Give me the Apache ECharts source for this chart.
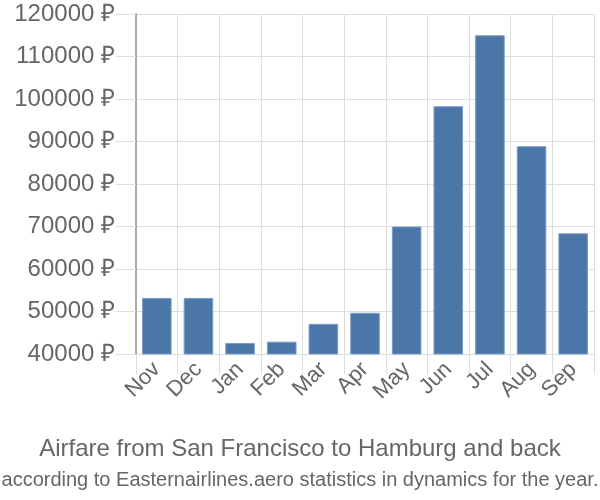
<!DOCTYPE html>
<html><head><meta charset="utf-8">
<script src="https://cdn.jsdelivr.net/npm/echarts@6/dist/echarts.min.js"></script>
<style>html,body{margin:0;padding:0;background:#fff}#c{width:600px;height:500px}</style>
</head><body><div id="c"></div>
<script>
const categories = ['Nov','Dec','Jan','Feb','Mar','Apr','May','Jun','Jul','Aug','Sep'];
const prices = [53200, 53200, 42600, 42900, 47100, 49700, 70000, 98300, 115000, 88900, 68400];
const yMin = 40000, yMax = 120000, yStep = 10000;
const titleText = 'Airfare from San Francisco to Hamburg and back';
const subtitleText = 'according to Easternairlines.aero statistics in dynamics for the year.';

const chart = echarts.init(document.getElementById('c'), null, {renderer:'canvas'});
const font = '"Liberation Sans", Arial, sans-serif';
chart.setOption({
  animation: false,
  grid: {left: 136, right: 6, top: 14, bottom: 146, containLabel: false},
  title: [
    {text: titleText, left: 'center', top: 432, textStyle: {fontFamily: font, fontSize: 24, fontWeight: 'normal', color: '#666'}},
    {text: subtitleText, left: 'center', top: 465, textStyle: {fontFamily: font, fontSize: 20, fontWeight: 'normal', color: '#666'}}
  ],
  xAxis: {
    type: 'category', data: categories,
    axisLine: {show: true, lineStyle: {color: '#ddd', width: 1}},
    axisTick: {show: true, length: 20, alignWithLabel: false, lineStyle: {color: '#ddd'}},
    splitLine: {show: true, lineStyle: {color: '#ddd'}},
    axisLabel: {rotate: 45, margin: 12, fontFamily: font, fontSize: 22, color: '#666', interval: 0}
  },
  yAxis: {
    type: 'value', min: yMin, max: yMax, interval: yStep,
    axisLine: {show: true, lineStyle: {color: '#aaa', width: 2}},
    axisTick: {show: true, length: 20, lineStyle: {color: '#ddd'}},
    splitLine: {show: true, lineStyle: {color: '#ddd'}},
    axisLabel: {formatter: function (v) { return v + ' ₽'; }, margin: 21, fontFamily: font, fontSize: 24, color: '#666'}
  },
  series: [{
    type: 'bar', data: prices, barCategoryGap: '29%',
    itemStyle: {color: '#4a77a8', borderColor: '#7d9cc2', borderWidth: 1}
  }]
});
</script></body></html>
